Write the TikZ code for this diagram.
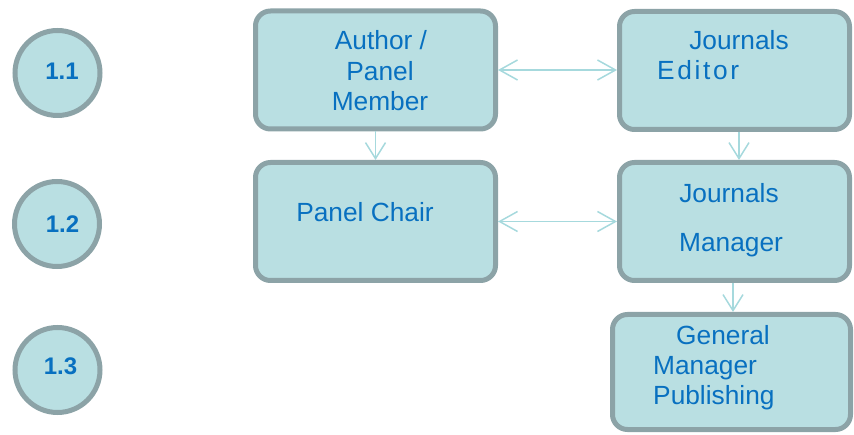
\documentclass[tikz,border=0pt]{standalone}
\usepackage{fontspec}
\setmainfont{Liberation Sans}
\usetikzlibrary{arrows.meta}
\definecolor{boxfill}{HTML}{B9DFE2}
\definecolor{boxline}{HTML}{8CA3A7}
\definecolor{txt}{HTML}{0870C0}
\definecolor{arrc}{HTML}{A6D9DD}
\begin{document}
\begin{tikzpicture}[x=1pt,y=-1pt,
  box/.style={draw=boxline, fill=boxfill, line width=5pt, rounded corners=15pt, inner sep=0pt},
  circ/.style={circle, draw=boxline, fill=boxfill, line width=5pt, minimum size=85pt, inner sep=0pt},
  lbl/.style={font=\fontsize{26.3}{30}\selectfont, text=txt, inner sep=0pt},
  num/.style={font=\bfseries\fontsize{24}{28}\selectfont, text=txt, inner sep=0pt},
  link2/.style={draw=arrc, line width=1.5pt, {Straight Barb[length=18pt,width=20pt]}-{Straight Barb[length=18pt,width=20pt]}},
  vlink/.style={draw=arrc, line width=1.5pt, -{Straight Barb[length=16pt,width=20pt]}}
]
\useasboundingbox (0,0) rectangle (854,435);

% circles
\node[circ] (c1) at (57.5,73) {};
\node[circ] (c2) at (57,224) {};
\node[circ] (c3) at (57.5,370) {};
\node[num, anchor=base] (n1) at (62,80) {1.1};
\node[num, anchor=base] (n2) at (62.5,233) {1.2};
\node[num, anchor=base] (n3) at (60.5,375) {1.3};

% boxes
\node[box, minimum width=240pt, minimum height=118pt] (A) at (375.5,70) {};
\node[box, minimum width=230pt, minimum height=118pt] (JE) at (734.5,70.5) {};
\node[box, minimum width=240pt, minimum height=118pt] (PC) at (375.5,221.5) {};
\node[box, minimum width=230pt, minimum height=118pt] (JM) at (734.5,221.5) {};
\node[box, minimum width=238pt, minimum height=115pt] (GM) at (731.5,372) {};

% texts
\node[lbl, anchor=base] (a1) at (381,50) {Author /};
\node[lbl, anchor=base] (a2) at (380,81) {Panel};
\node[lbl, anchor=base] (a3) at (380,111) {Member};
\node[lbl, anchor=base] (je1) at (739,50) {Journals};
\node[lbl, anchor=base west] (je2) at (657,80) {\addfontfeature{LetterSpace=10}Editor};
\node[lbl, anchor=base] (pc1) at (365,222) {Panel Chair};
\node[lbl, anchor=base] (jm1) at (729,203) {Journals};
\node[lbl, anchor=base] (jm2) at (731,252) {Manager};
\node[lbl, anchor=base west] (g1) at (676,345) {General};
\node[lbl, anchor=base west] (g2) at (653,375) {Manager};
\node[lbl, anchor=base west] (g3) at (653,405) {Publishing};

% connectors
\draw[link2] (A.east) -- (A.east -| JE.west);
\draw[link2] (PC.east) -- (PC.east -| JM.west);
\draw[vlink] (A.south) -- (PC.north);
\draw[vlink] ([xshift=4.5pt]JE.south) -- ([xshift=4.5pt]JM.north);
\draw[vlink] ([xshift=-1.5pt]JM.south) -- ([xshift=1.5pt]GM.north);
\end{tikzpicture}
\end{document}
